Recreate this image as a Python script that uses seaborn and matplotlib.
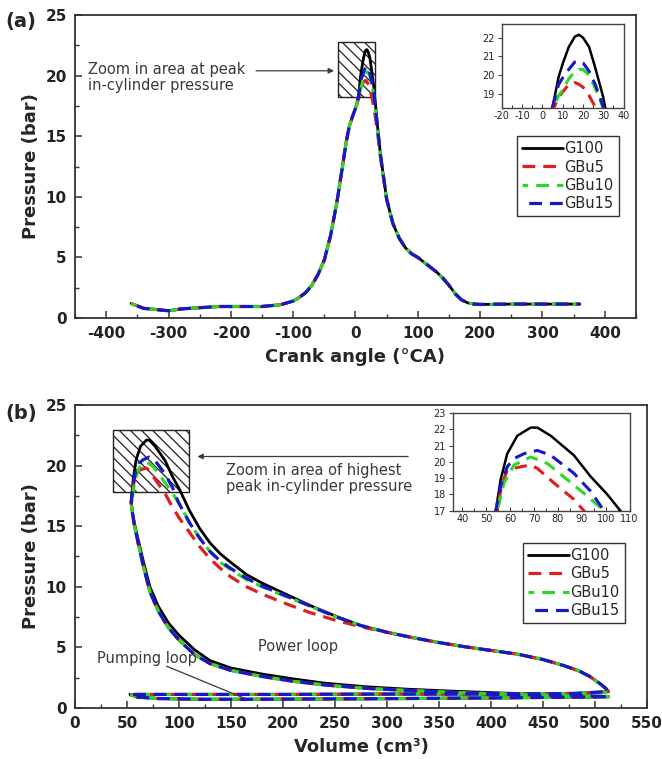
import numpy as np
import pandas as pd
import matplotlib
matplotlib.use("Agg")
import matplotlib.pyplot as plt
from matplotlib.patches import Rectangle
from matplotlib.ticker import MultipleLocator
import seaborn as sns

# ---- common ----
fuels = ["G100", "GBu5", "GBu10", "GBu15"]
fuel_colors = ["#000000", "#e01e1e", "#2ad82a", "#1818c8"]

# ---- (a) pressure vs crank angle ----
crank_angle = [-360, -340, -320, -300, -280, -250, -220, -200, -180, -150,
               -120, -100, -90, -80, -70, -60, -50, -40, -30, -20,
               -15, -10, -5, 0, 5, 8, 10, 13, 16, 18,
               20, 23, 26, 28, 30, 35, 40, 50, 60, 70,
               80, 90, 100, 110, 120, 130, 140, 150, 160, 170,
               180, 190, 200, 250, 300, 360]
p_ca_g100 = [1.2, 0.8, 0.7, 0.6, 0.75, 0.85, 0.95, 0.95, 0.95, 0.95,
             1.1, 1.4, 1.7, 2.1, 2.7, 3.6, 4.8, 6.8, 9.5, 12.8,
             14.5, 15.8, 16.6, 17.3, 18.3, 19.9, 20.6, 21.5, 22.05, 22.15,
             22.0, 21.5, 20.4, 19.6, 18.8, 16.0, 13.5, 9.8, 7.8, 6.6,
             5.8, 5.3, 5.0, 4.6, 4.2, 3.8, 3.3, 2.7, 2.0, 1.5,
             1.25, 1.15, 1.12, 1.15, 1.15, 1.15]
p_ca_gbu5 = [1.2, 0.8, 0.7, 0.6, 0.75, 0.85, 0.95, 0.95, 0.95, 0.95,
             1.1, 1.4, 1.7, 2.1, 2.7, 3.6, 4.8, 6.8, 9.5, 12.8,
             14.5, 15.8, 16.6, 17.3, 18.1, 18.8, 19.1, 19.5, 19.6, 19.5,
             19.35, 18.9, 18.3, 17.8, 17.2, 15.5, 13.3, 9.8, 7.8, 6.6,
             5.8, 5.3, 5.0, 4.6, 4.2, 3.8, 3.3, 2.7, 2.0, 1.5,
             1.25, 1.15, 1.12, 1.15, 1.15, 1.15]
p_ca_gbu10 = [1.2, 0.8, 0.7, 0.6, 0.75, 0.85, 0.95, 0.95, 0.95, 0.95,
              1.1, 1.4, 1.7, 2.1, 2.7, 3.6, 4.8, 6.8, 9.5, 12.8,
              14.5, 15.8, 16.6, 17.3, 18.2, 18.9, 19.2, 19.8, 20.2, 20.3,
              20.3, 20.0, 19.3, 18.8, 18.2, 15.8, 13.4, 9.8, 7.8, 6.6,
              5.8, 5.3, 5.0, 4.6, 4.2, 3.8, 3.3, 2.7, 2.0, 1.5,
              1.25, 1.15, 1.12, 1.15, 1.15, 1.15]
p_ca_gbu15 = [1.2, 0.8, 0.7, 0.6, 0.75, 0.85, 0.95, 0.95, 0.95, 0.95,
              1.1, 1.4, 1.7, 2.1, 2.7, 3.6, 4.8, 6.8, 9.5, 12.8,
              14.5, 15.8, 16.6, 17.3, 18.3, 19.5, 19.85, 20.3, 20.7, 20.75,
              20.65, 20.2, 19.5, 18.9, 18.3, 15.9, 13.5, 9.8, 7.8, 6.6,
              5.8, 5.3, 5.0, 4.6, 4.2, 3.8, 3.3, 2.7, 2.0, 1.5,
              1.25, 1.15, 1.12, 1.15, 1.15, 1.15]

# ---- (b) p-V diagram, read segment by segment ----
v_intake = [53, 60, 80, 120, 160, 200, 250, 300, 350, 400, 450, 490, 513]
p_intake = [1.1, 0.9, 0.78, 0.72, 0.72, 0.73, 0.75, 0.77, 0.8, 0.83, 0.87, 0.9, 0.93]

v_comp = [513, 480, 440, 400, 360, 320, 280, 240, 210, 180, 150,
          130, 115, 100, 90, 80, 72, 66, 61, 57, 55, 54]
p_comp_g100 = [0.93, 1.05, 1.15, 1.27, 1.4, 1.55, 1.75, 2.05, 2.4, 2.8, 3.3,
               3.9, 4.8, 6.0, 7.0, 8.4, 10.0, 12.0, 13.8, 15.3, 16.3, 17.0]
p_comp_gbu = [0.95, 1.0, 1.08, 1.18, 1.3, 1.45, 1.62, 1.9, 2.2, 2.6, 3.1,
              3.65, 4.4, 5.6, 6.6, 8.0, 9.6, 11.6, 13.5, 15.1, 16.2, 17.0]

v_exp_g100 = [54, 56, 58.8, 63, 68.6, 71.4, 77, 86.7, 93.7, 100.7, 110, 120,
              130, 140, 150, 165, 180, 200, 225, 250, 275]
p_exp_g100 = [17.0, 18.9, 20.5, 21.6, 22.1, 22.1, 21.6, 20.4, 19.1, 18.0, 16.3, 14.8,
              13.6, 12.7, 12.0, 11.0, 10.3, 9.5, 8.5, 7.6, 6.8]
v_exp_gbu5 = [54.5, 56.5, 58.8, 64.4, 68.6, 71.4, 78.4, 86.7, 90.9, 100, 110, 120,
              130, 140, 150, 165, 180, 200, 225, 250, 275]
p_exp_gbu5 = [17.0, 18.6, 19.5, 19.7, 19.8, 19.6, 18.7, 17.7, 17.0, 15.7, 14.5, 13.3,
              12.3, 11.5, 10.8, 10.0, 9.4, 8.7, 7.9, 7.25, 6.7]
v_exp_gbu10 = [54.6, 57.4, 61.6, 67.2, 68.6, 75.6, 84, 92.3, 99.3, 110, 120,
               130, 140, 150, 165, 180, 200, 225, 250, 275]
p_exp_gbu10 = [17.0, 18.7, 19.8, 20.2, 20.3, 19.9, 18.9, 17.9, 17.0, 15.3, 14.0,
               12.9, 12.0, 11.4, 10.6, 10.0, 9.3, 8.45, 7.55, 6.8]
v_exp_gbu15 = [54, 56, 58.8, 61.6, 65.8, 71.4, 77, 86.7, 93.7, 99.3, 110, 120,
               130, 140, 150, 165, 180, 200, 225, 250, 275]
p_exp_gbu15 = [17.0, 18.5, 19.7, 20.2, 20.5, 20.7, 20.4, 19.3, 18.2, 17.0, 15.3, 14.0,
               12.9, 12.1, 11.5, 10.7, 10.05, 9.35, 8.45, 7.55, 6.8]

v_tail = [300, 325, 350, 375, 400, 425, 450, 470, 485, 495, 505, 510, 513]
p_tail = [6.25, 5.8, 5.4, 5.05, 4.75, 4.45, 4.0, 3.5, 3.05, 2.6, 2.0, 1.65, 1.35]

v_exhaust = [513, 480, 400, 300, 200, 100, 60, 53]
p_exhaust = [1.35, 1.2, 1.15, 1.15, 1.12, 1.12, 1.12, 1.1]

# ---- assemble long tables ----
p_ca = {"G100": p_ca_g100, "GBu5": p_ca_gbu5, "GBu10": p_ca_gbu10, "GBu15": p_ca_gbu15}
df_a = pd.concat([pd.DataFrame({"angle": crank_angle, "p": p_ca[f], "fuel": f}) for f in fuels],
                 ignore_index=True)

exp_parts = {"G100": (v_exp_g100, p_exp_g100), "GBu5": (v_exp_gbu5, p_exp_gbu5),
             "GBu10": (v_exp_gbu10, p_exp_gbu10), "GBu15": (v_exp_gbu15, p_exp_gbu15)}
rows = []
for f in fuels:
    pc = p_comp_g100 if f == "G100" else p_comp_gbu
    v = v_intake + v_comp + exp_parts[f][0] + v_tail + v_exhaust
    p = p_intake + pc + exp_parts[f][1] + p_tail + p_exhaust
    rows.append(pd.DataFrame({"vol": v, "p": p, "fuel": f}))
df_b = pd.concat(rows, ignore_index=True)

# ---- style ----
sns.set_style("white")
plt.rcParams["font.family"] = ["DejaVu Sans"]
plt.rcParams["axes.unicode_minus"] = False
plt.rcParams["hatch.linewidth"] = 0.9
plt.rcParams["hatch.color"] = "#222222"

styles = {"G100": "-", "GBu5": (0, (4, 2.5)), "GBu10": (2.2, (4, 2.5)), "GBu15": (4.4, (4, 2.5))}
colors = dict(zip(fuels, fuel_colors))
grey = "#3a3a3a"


def draw_fuels(ax, df, x, lw_solid=2.0, lw_dash=2.3):
    for f in fuels:
        sub = df[df["fuel"] == f]
        sns.lineplot(x=sub[x].values, y=sub["p"].values, ax=ax, sort=False, estimator=None,
                     color=colors[f], linestyle=styles[f],
                     lw=lw_solid if f == "G100" else lw_dash, label=f, legend=False, zorder=3)


def style_main(ax):
    for s in ax.spines.values():
        s.set_color("#333333")
        s.set_linewidth(1.3)
    ax.tick_params(which="both", direction="in", bottom=True, left=True, top=False, right=False,
                   colors="#333333", labelcolor="#222222")
    ax.tick_params(which="major", length=5, width=1.1, pad=6, labelsize=11)
    ax.tick_params(which="minor", length=3, width=1.0)
    for lab in ax.get_xticklabels() + ax.get_yticklabels():
        lab.set_fontweight("bold")


def style_inset(ax):
    for s in ax.spines.values():
        s.set_color("#444444")
        s.set_linewidth(1.0)
    ax.tick_params(axis="x", which="both", direction="in", bottom=True, top=False)
    ax.tick_params(axis="y", which="both", direction="out", left=True, right=False)
    ax.tick_params(which="major", length=3, width=0.8, pad=2, labelsize=7, colors="#444444",
                   labelcolor="#222222")
    ax.tick_params(which="minor", length=2, width=0.7)
    ax.set_xlabel("")
    ax.set_ylabel("")


def add_legend(ax, anchor):
    handles, labels = ax.get_legend_handles_labels()
    leg = ax.legend(handles, labels, loc="upper right", bbox_to_anchor=anchor, frameon=True,
                    fancybox=False, edgecolor="#333333", framealpha=1, fontsize=10.5,
                    handlelength=2.8, handletextpad=0.1, labelspacing=0.22, borderpad=0.35)
    leg.get_frame().set_linewidth(1.0)


fig = plt.figure(figsize=(6.62, 7.59), dpi=100)

# ---------- panel (a) ----------
ax_a = fig.add_axes([0.1133, 0.581, 0.8474, 0.3992])
draw_fuels(ax_a, df_a, "angle")
ax_a.set_xlim(-450, 450)
ax_a.set_ylim(0, 25)
ax_a.xaxis.set_major_locator(MultipleLocator(100))
ax_a.xaxis.set_minor_locator(MultipleLocator(50))
ax_a.yaxis.set_major_locator(MultipleLocator(5))
ax_a.yaxis.set_minor_locator(MultipleLocator(2.5))
ax_a.set_xlabel("Crank angle (°CA)", fontsize=13, fontweight="bold", labelpad=5)
ax_a.set_ylabel("Pressure (bar)", fontsize=13, fontweight="bold", labelpad=4)
style_main(ax_a)
ax_a.add_patch(Rectangle((-28, 18.25), 59, 4.5, fill=False, hatch="\\\\\\",
                         edgecolor="#222222", lw=1.0, zorder=2))
ax_a.annotate("", xy=(-30, 20.4), xytext=(-164, 20.4),
              arrowprops=dict(arrowstyle="-|>", color=grey, lw=0.9, mutation_scale=8))
ax_a.text(-429, 19.85, "Zoom in area at peak\nin-cylinder pressure", fontsize=10.5,
          color=grey, ha="left", va="center", linespacing=1.1)
add_legend(ax_a, (0.982, 0.624))

ins_a = fig.add_axes([0.758, 0.858, 0.184, 0.111])
draw_fuels(ins_a, df_a, "angle", lw_solid=1.8, lw_dash=2.2)
ins_a.set_xlim(-20, 40)
ins_a.set_ylim(18.25, 22.75)
ins_a.xaxis.set_major_locator(MultipleLocator(10))
ins_a.xaxis.set_minor_locator(MultipleLocator(5))
ins_a.yaxis.set_major_locator(MultipleLocator(1))
style_inset(ins_a)

fig.text(0.008, 0.972, "(a)", fontsize=14, fontweight="bold", va="center", ha="left")

# ---------- panel (b) ----------
ax_b = fig.add_axes([0.1133, 0.0672, 0.864, 0.3992])
draw_fuels(ax_b, df_b, "vol")
ax_b.set_xlim(0, 550)
ax_b.set_ylim(0, 25)
ax_b.xaxis.set_major_locator(MultipleLocator(50))
ax_b.xaxis.set_minor_locator(MultipleLocator(25))
ax_b.yaxis.set_major_locator(MultipleLocator(5))
ax_b.yaxis.set_minor_locator(MultipleLocator(2.5))
ax_b.set_xlabel("Volume (cm³)", fontsize=13, fontweight="bold", labelpad=5)
ax_b.set_ylabel("Pressure (bar)", fontsize=13, fontweight="bold", labelpad=4)
style_main(ax_b)
ax_b.add_patch(Rectangle((37, 17.8), 73, 5.1, fill=False, hatch="\\\\\\",
                         edgecolor="#222222", lw=1.0, zorder=2))
ax_b.annotate("", xy=(115, 20.75), xytext=(323, 20.75),
              arrowprops=dict(arrowstyle="-|>", color=grey, lw=0.9, mutation_scale=8))
ax_b.text(145, 18.95, "Zoom in area of highest\npeak in-cylinder pressure", fontsize=10.5,
          color=grey, ha="left", va="center", linespacing=1.1)
ax_b.text(214, 5.1, "Power loop", fontsize=10.5, color=grey, ha="center", va="center")
ax_b.text(21, 4.1, "Pumping loop", fontsize=10.5, color=grey, ha="left", va="center")
ax_b.plot([88, 163], [3.45, 0.8], color=grey, lw=0.9, zorder=4)
add_legend(ax_b, (0.974, 0.568))

ins_b = fig.add_axes([0.684, 0.327, 0.267, 0.129])
draw_fuels(ins_b, df_b, "vol", lw_solid=1.8, lw_dash=2.2)
ins_b.set_xlim(36, 110)
ins_b.set_ylim(17, 23)
ins_b.xaxis.set_major_locator(MultipleLocator(10))
ins_b.xaxis.set_minor_locator(MultipleLocator(5))
ins_b.yaxis.set_major_locator(MultipleLocator(1))
style_inset(ins_b)

fig.text(0.008, 0.455, "(b)", fontsize=14, fontweight="bold", va="center", ha="left")

fig.savefig("out.png", dpi=100)
